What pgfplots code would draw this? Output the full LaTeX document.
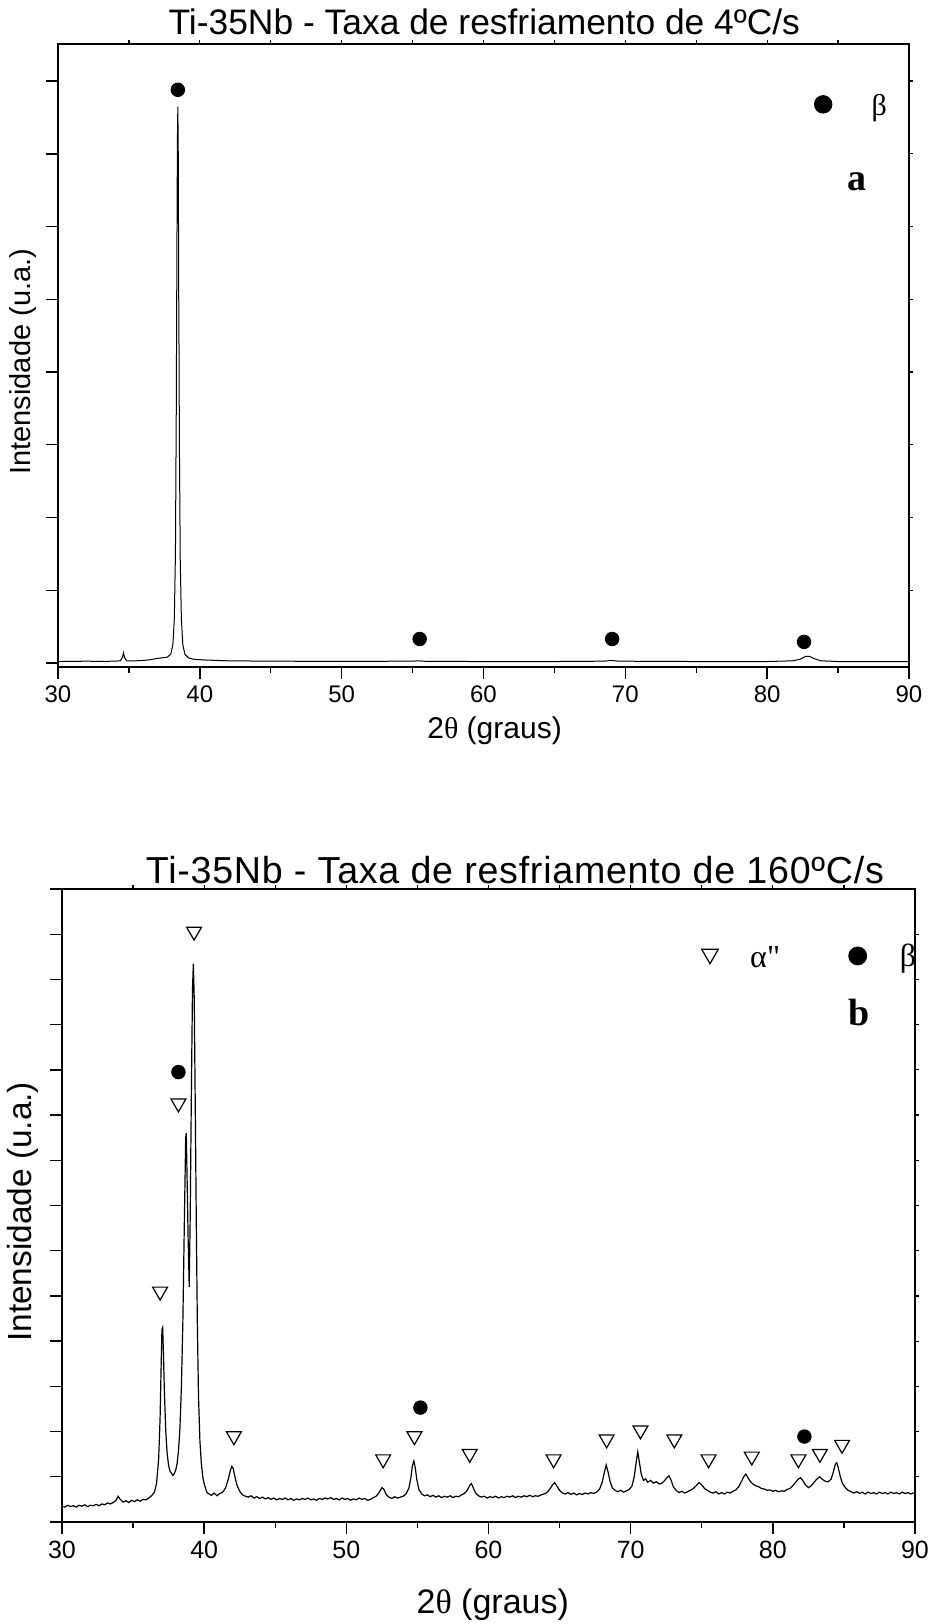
\documentclass[border=0pt]{standalone}
\usepackage{fontspec}
\setmainfont{Liberation Sans}
\newfontfamily\tms{Liberation Serif}
\usepackage{pgfplots}
\usepackage{pgfplotstable}
\pgfplotsset{compat=1.18}

% (a) 4 C/s
\pgfplotstableread{
x y
30.0 0.020
31.0 0.022
32.0 0.025
33.0 0.022
34.0 0.025
34.4 0.030
34.55 0.080
34.62 0.140
34.70 0.070
34.85 0.030
35.5 0.030
36.0 0.035
36.5 0.045
36.9 0.060
37.3 0.070
37.7 0.080
37.95 0.120
38.10 0.25
38.20 0.60
38.28 1.50
38.34 3.50
38.38 5.50
38.42 7.20
38.45 7.65
38.48 7.00
38.52 4.60
38.53 4.45
38.56 3.00
38.62 1.40
38.70 0.60
38.80 0.25
38.95 0.12
39.2 0.070
39.6 0.050
40.5 0.040
42.0 0.030
45.0 0.025
50.0 0.022
55.0 0.025
55.4 0.030
56.0 0.022
60.0 0.020
65.0 0.020
68.5 0.025
69.0 0.035
69.5 0.025
75.0 0.020
80.0 0.020
81.8 0.030
82.3 0.050
82.7 0.090
83.0 0.090
83.3 0.060
83.8 0.030
85.0 0.020
90.0 0.020
}\dataA

% (b) 160 C/s
\pgfplotstableread{
x y
30.0 0.35
30.2 0.33
30.4 0.37
30.6 0.34
30.8 0.36
31.0 0.33
31.2 0.37
31.4 0.35
31.6 0.38
31.8 0.34
32.0 0.37
32.2 0.36
32.4 0.39
32.6 0.36
32.8 0.40
33.0 0.38
33.2 0.42
33.4 0.40
33.6 0.43
33.8 0.48
33.95 0.57
34.1 0.50
34.3 0.44
34.5 0.47
34.7 0.43
34.9 0.48
35.1 0.45
35.3 0.49
35.5 0.46
35.7 0.50
35.9 0.49
36.1 0.53
36.3 0.58
36.5 0.66
36.65 0.85
36.8 1.4
36.9 2.3
36.97 3.4
37.03 4.25
37.08 4.3
37.13 3.8
37.2 2.9
37.3 2.0
37.4 1.5
37.5 1.25
37.6 1.12
37.7 1.08
37.8 1.03
37.9 1.07
38.0 1.15
38.1 1.3
38.2 1.6
38.3 2.1
38.4 3.0
38.5 4.4
38.6 6.5
38.7 8.5
38.74 8.6
38.8 7.6
38.87 6.3
38.95 5.2
39.02 6.8
39.1 9.5
39.18 11.8
39.24 12.35
39.3 11.6
39.38 9.0
39.45 6.5
39.52 4.4
39.6 2.8
39.7 1.8
39.8 1.3
39.9 1.0
40.0 0.85
40.1 0.74
40.2 0.65
40.35 0.62
40.5 0.59
40.7 0.64
40.9 0.58
41.1 0.63
41.3 0.66
41.5 0.75
41.7 0.95
41.85 1.15
41.95 1.23
42.05 1.18
42.15 1.02
42.3 0.82
42.5 0.68
42.7 0.60
42.9 0.57
43.1 0.55
43.3 0.58
43.5 0.53
43.7 0.56
43.9 0.52
44.1 0.55
44.3 0.51
44.5 0.54
44.7 0.50
44.9 0.53
45.1 0.49
45.3 0.52
45.5 0.50
45.7 0.53
45.9 0.49
46.1 0.52
46.3 0.48
46.5 0.51
46.7 0.49
46.9 0.52
47.1 0.50
47.3 0.53
47.5 0.49
47.7 0.51
47.9 0.48
48.1 0.52
48.3 0.50
48.5 0.53
48.7 0.51
48.9 0.54
49.1 0.50
49.3 0.52
49.5 0.49
49.7 0.53
49.9 0.50
50.1 0.52
50.3 0.48
50.5 0.51
50.7 0.49
50.9 0.53
51.1 0.50
51.3 0.52
51.5 0.48
51.7 0.50
51.9 0.54
52.1 0.57
52.3 0.65
52.5 0.76
52.65 0.72
52.8 0.61
53.0 0.55
53.2 0.52
53.4 0.56
53.6 0.53
53.8 0.55
54.0 0.57
54.2 0.62
54.4 0.75
54.55 1.0
54.65 1.25
54.75 1.35
54.85 1.2
54.95 0.95
55.1 0.72
55.3 0.62
55.5 0.58
55.7 0.60
55.9 0.56
56.1 0.59
56.3 0.55
56.5 0.58
56.7 0.54
56.9 0.57
57.1 0.55
57.3 0.58
57.5 0.54
57.7 0.57
57.9 0.56
58.1 0.60
58.3 0.63
58.5 0.70
58.7 0.82
58.8 0.85
58.95 0.74
59.1 0.64
59.3 0.58
59.5 0.55
59.7 0.57
59.9 0.53
60.1 0.56
60.3 0.54
60.5 0.57
60.7 0.53
60.9 0.56
61.1 0.54
61.3 0.57
61.5 0.55
61.7 0.58
61.9 0.54
62.1 0.57
62.3 0.55
62.5 0.58
62.7 0.56
62.9 0.59
63.1 0.56
63.3 0.58
63.5 0.57
63.7 0.60
63.9 0.62
64.1 0.65
64.3 0.72
64.5 0.82
64.65 0.87
64.8 0.80
65.0 0.70
65.2 0.64
65.4 0.62
65.6 0.65
65.8 0.61
66.0 0.64
66.2 0.60
66.4 0.63
66.6 0.61
66.8 0.64
67.0 0.62
67.2 0.65
67.4 0.63
67.6 0.66
67.8 0.72
68.0 0.88
68.15 1.1
68.28 1.26
68.4 1.12
68.55 0.9
68.7 0.76
68.9 0.70
69.1 0.67
69.3 0.70
69.5 0.66
69.7 0.69
69.9 0.72
70.1 0.80
70.25 1.0
70.4 1.35
70.5 1.55
70.6 1.35
70.75 1.05
70.9 0.92
71.05 0.95
71.2 0.88
71.4 0.92
71.6 0.86
71.8 0.89
72.0 0.84
72.2 0.86
72.4 0.92
72.55 0.98
72.7 1.02
72.85 0.92
73.0 0.78
73.2 0.70
73.4 0.65
73.6 0.68
73.8 0.64
74.0 0.67
74.2 0.70
74.4 0.74
74.6 0.80
74.8 0.87
75.0 0.82
75.2 0.74
75.4 0.70
75.6 0.66
75.8 0.64
76.0 0.67
76.2 0.62
76.4 0.65
76.6 0.62
76.8 0.66
77.0 0.64
77.2 0.68
77.4 0.71
77.6 0.78
77.8 0.90
77.95 1.0
78.1 1.06
78.25 0.98
78.4 0.90
78.6 0.84
78.8 0.80
79.0 0.78
79.2 0.74
79.4 0.73
79.6 0.70
79.8 0.71
80.0 0.68
80.2 0.70
80.4 0.67
80.6 0.69
80.8 0.68
81.0 0.72
81.2 0.74
81.4 0.80
81.6 0.88
81.8 0.95
81.95 0.98
82.1 0.92
82.3 0.82
82.5 0.76
82.7 0.80
82.9 0.88
83.1 0.95
83.3 1.0
83.5 0.94
83.7 0.90
83.9 0.89
84.1 0.95
84.25 1.1
84.4 1.28
84.5 1.31
84.6 1.2
84.75 1.0
84.9 0.85
85.1 0.76
85.3 0.70
85.5 0.67
85.7 0.64
85.9 0.67
86.1 0.63
86.3 0.66
86.5 0.62
86.7 0.66
86.9 0.63
87.1 0.65
87.3 0.62
87.5 0.66
87.7 0.63
87.9 0.65
88.1 0.62
88.3 0.66
88.5 0.63
88.7 0.65
88.9 0.62
89.1 0.66
89.3 0.63
89.5 0.65
89.7 0.62
89.9 0.64
90.0 0.63
}\dataB

\pgfplotsset{
  xrd/.style={
    scale only axis, clip=false,
    xmin=30, xmax=90,
    xtick={30,40,...,90}, minor xtick={35,45,...,85},
    xtick pos=bottom, ytick pos=left,
    yticklabels={},
    tick align=outside,
    major tick length=6pt, minor tick length=3pt,
    tick style={black, line width=0.7pt},
    axis line style={line width=0.9pt},
    /pgf/number format/assume math mode=true,
  },
  mirror/.style={
    scale only axis,
    xmin=30, xmax=90,
    axis x line*=top, axis y line*=right,
    axis line style={-, line width=0.7pt},
    xtick={35,40,...,85},
    xticklabels={}, yticklabels={},
    tick align=outside, major tick length=1.8pt,
    tick style={black, line width=0.6pt},
  },
  tri/.style={only marks, mark=triangle, mark size=4.3pt,
    mark options={rotate=180, line width=0.6pt, fill=white}},
  dot/.style={only marks, mark=*, mark size=3.4pt},
}

\begin{document}
\begin{tikzpicture}
\path[use as bounding box] (0,0) rectangle (464.5pt,812pt);

% ---- painel a ----
\begin{axis}[xrd,
  at={(29pt,478.5pt)}, anchor=south west,
  width=425.5pt, height=311.5pt,
  ymin=-0.055, ymax=8.51, ytick={0,...,8},
  ticklabel style={font=\fontsize{12}{14}\selectfont},
  title={Ti-35Nb - Taxa de resfriamento de 4ºC/s},
  title style={font=\fontsize{17.7}{20}\selectfont,
    at={(axis description cs:0.501,1)}, anchor=center, yshift=5pt},
  xlabel={2{\tms θ} (graus)},
  xlabel style={font=\fontsize{15}{16}\selectfont,
    at={(axis description cs:0.513,0)}, anchor=center, yshift=-32pt},
  ylabel={Intensidade (u.a.)},
  ylabel style={font=\fontsize{14.5}{16}\selectfont,
    at={(axis description cs:-0.041,0.49)}, anchor=center},
]
\addplot[black, line width=0.5pt] table {\dataA};
\addplot[dot] coordinates {(38.45,7.88) (55.5,0.33) (69.07,0.33) (82.6,0.29)};
\addplot[dot, mark size=4.4pt] coordinates {(83.95,7.68)};
\node[font=\tms\fontsize{15}{16}\selectfont] at (axis cs:87.9,7.63) {β};
\node[font=\tms\bfseries\fontsize{19}{20}\selectfont] at (axis cs:86.35,6.62) {a};
\end{axis}
\begin{axis}[mirror,
  at={(29pt,478.5pt)}, anchor=south west,
  width=425.5pt, height=311.5pt,
  ymin=-0.055, ymax=8.51, ytick={1,...,8}]
\end{axis}

% ---- painel b ----
\begin{axis}[xrd,
  at={(31pt,51pt)}, anchor=south west,
  width=426.5pt, height=316.5pt,
  ymin=0, ymax=14, ytick={0,...,14},
  ticklabel style={font=\fontsize{12.5}{14}\selectfont},
  title={Ti-35Nb - Taxa de resfriamento de 160ºC/s},
  title style={font=\fontsize{18.8}{20}\selectfont\addfontfeature{LetterSpace=2},
    at={(axis description cs:0.531,1)}, anchor=center, yshift=3.5pt},
  xlabel={2{\tms θ} (graus)},
  xlabel style={font=\fontsize{17}{18}\selectfont,
    at={(axis description cs:0.505,0)}, anchor=center, yshift=-41.5pt},
  ylabel={Intensidade (u.a.)},
  ylabel style={font=\fontsize{16.7}{18}\selectfont,
    at={(axis description cs:-0.046,0.49)}, anchor=center},
]
\addplot[black, line width=0.6pt] table {\dataB};
\addplot[tri] coordinates {
  (39.29,13.06) (38.19,9.26) (36.9,5.10) (42.09,1.90) (52.59,1.39)
  (54.79,1.90) (58.68,1.51) (64.58,1.39) (68.31,1.83) (70.69,2.03)
  (73.07,1.83) (75.48,1.39) (78.52,1.45) (81.8,1.39) (83.31,1.51)
  (84.87,1.71)};
\addplot[dot] coordinates {(38.19,9.95) (55.21,2.53) (82.22,1.89)};
\addplot[tri, mark size=4.8pt] coordinates {(75.58,12.56)};
\addplot[dot, mark size=4.5pt] coordinates {(85.97,12.52)};
\node[font=\tms\fontsize{16}{17}\selectfont] at (axis cs:79.46,12.5) {α"};
\node[font=\tms\fontsize{16}{17}\selectfont] at (axis cs:89.5,12.47) {β};
\node[font=\tms\bfseries\fontsize{19}{20}\selectfont] at (axis cs:86.04,11.26) {b};
\end{axis}
\begin{axis}[mirror,
  at={(31pt,51pt)}, anchor=south west,
  width=426.5pt, height=316.5pt,
  ymin=0, ymax=14, ytick={1,...,13}]
\end{axis}
\end{tikzpicture}
\end{document}
